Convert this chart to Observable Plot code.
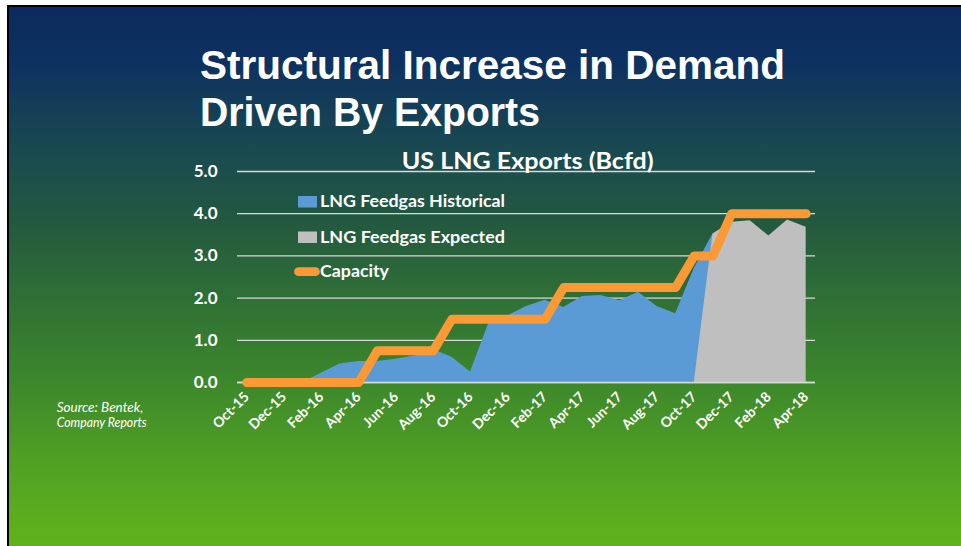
<!DOCTYPE html>
<html><head><meta charset="utf-8">
<script src="https://cdn.jsdelivr.net/npm/d3@7"></script>
<script src="https://cdn.jsdelivr.net/npm/@observablehq/plot@0.6"></script>
<style>
html,body{margin:0;padding:0;background:#fff;}
#wrap{position:relative;width:961px;height:546px;overflow:hidden;}
#slide{position:absolute;left:7px;top:5px;width:954px;height:541px;border-left:2px solid #000;border-top:2px solid #000;box-sizing:border-box;
background:linear-gradient(to bottom,#0a2a5c 0%,#0d3160 10%,#1a4a50 27%,#23593f 40%,#2e6e36 53%,#3d882b 70%,#50a024 84%,#60b31c 100%);}
#chart,#overlay{position:absolute;left:0;top:0;}
</style></head>
<body><div id="wrap"><div id="slide"></div><div id="chart"></div><svg id="overlay" width="961" height="546"></svg></div>
<script>
const months = ["Oct-15","Nov-15","Dec-15","Jan-16","Feb-16","Mar-16","Apr-16","May-16","Jun-16","Jul-16","Aug-16","Sep-16","Oct-16","Nov-16","Dec-16","Jan-17","Feb-17","Mar-17","Apr-17","May-17","Jun-17","Jul-17","Aug-17","Sep-17","Oct-17","Nov-17","Dec-17","Jan-18","Feb-18","Mar-18","Apr-18"];
const historical = [0,0,0,0,0.22,0.44,0.5,0.5,0.55,0.63,0.78,0.6,0.25,1.43,1.58,1.8,1.95,1.78,2.04,2.06,1.94,2.14,1.8,1.63,2.7,3.52,null,null,null,null,null];
const expected = [null,null,null,null,null,null,null,null,null,null,null,null,null,null,null,null,null,null,null,null,null,null,null,null,null,3.52,3.8,3.83,3.47,3.85,3.68];
const capacity = [0,0,0,0,0,0,0,0.75,0.75,0.75,0.75,1.5,1.5,1.5,1.5,1.5,1.5,2.25,2.25,2.25,2.25,2.25,2.25,2.25,3,3,4,4,4,4,4];
const yTicks = [0,1,2,3,4,5];
const seriesNames = ["LNG Feedgas Historical","LNG Feedgas Expected","Capacity"];
const titleLines = ["Structural Increase in Demand","Driven By Exports"];
const chartTitle = "US LNG Exports (Bcfd)";
const sourceLines = ["Source: Bentek,","Company Reports"];

const colors = {hist:"#5b9bd5", exp:"#bfbfbf", cap:"#fb9a35"};
const xTickIdx = months.map((d,i)=>i).filter(i=>i%2===0);
// Excel area chart: blank cells plotted as zero
const rows = months.map((m,i)=>({i, m, hist: historical[i] ?? 0, exp: expected[i] ?? 0, cap: capacity[i]}));

const chart = Plot.plot({
  width: 961, height: 546,
  marginLeft: 237, marginRight: 146, marginTop: 171, marginBottom: 164,
  style: {background: "transparent", color: "white", fontFamily: "Lato, sans-serif", overflow: "visible"},
  x: {type: "linear", domain: [-0.5, 30.5]},
  y: {domain: [0, 5]},
  marks: [
    Plot.ruleY(yTicks, {stroke: "#d9d9d9", strokeWidth: 1.3}),
    Plot.areaY(rows, {x: "i", y: "hist", fill: colors.hist}),
    Plot.areaY(rows, {x: "i", y: "exp", fill: colors.exp}),
    Plot.ruleY([0], {stroke: "#d9d9d9", strokeWidth: 1.5}),
    Plot.lineY(rows, {x: "i", y: "cap", stroke: colors.cap, strokeWidth: 9, strokeLinecap: "round", strokeLinejoin: "round"}),
    Plot.axisY({ticks: yTicks, tickFormat: d3.format(".1f"), tickSize: 0, tickPadding: 20, fontSize: 17, fontWeight: "bold", label: null}),
    Plot.axisX({ticks: xTickIdx, tickFormat: i => months[i], tickRotate: -45, tickSize: 0, tickPadding: 12, fontSize: 14, fontWeight: "bold", label: null})
  ]
});
document.getElementById("chart").appendChild(chart);

const ov = d3.select("#overlay");
function txt(s, x, y, size, opts = {}) {
  const t = ov.append("text").attr("x", x).attr("y", y).attr("fill", "white")
    .attr("font-size", size).attr("font-family", opts.family || "Lato, sans-serif")
    .attr("font-weight", opts.weight || "bold").text(s);
  if (opts.italic) t.attr("font-style", "italic");
  if (opts.len) t.attr("textLength", opts.len).attr("lengthAdjust", "spacingAndGlyphs");
  return t;
}
txt(titleLines[0], 200, 79, 41, {family: "'Liberation Sans', Arial, sans-serif", len: 585});
txt(titleLines[1], 200, 126, 41, {family: "'Liberation Sans', Arial, sans-serif", len: 340});
txt(chartTitle, 401.7, 168.5, 22, {len: 252});
// legend
ov.append("rect").attr("x", 298).attr("y", 196).attr("width", 19).attr("height", 11.5).attr("fill", colors.hist);
txt(seriesNames[0], 320, 207.3, 17, {len: 185});
ov.append("rect").attr("x", 298).attr("y", 231.5).attr("width", 19).attr("height", 11.5).attr("fill", colors.exp);
txt(seriesNames[1], 320, 242.7, 17, {len: 185});
ov.append("line").attr("x1", 298.5).attr("x2", 315.5).attr("y1", 271.7).attr("y2", 271.7)
  .attr("stroke", colors.cap).attr("stroke-width", 8.7).attr("stroke-linecap", "round");
txt(seriesNames[2], 320, 277, 17, {len: 69});
// source
txt(sourceLines[0], 56.7, 411.7, 13.5, {weight: "normal", italic: true, len: 86.6});
txt(sourceLines[1], 56.7, 427, 13.5, {weight: "normal", italic: true, len: 90});
</script>
</body></html>
